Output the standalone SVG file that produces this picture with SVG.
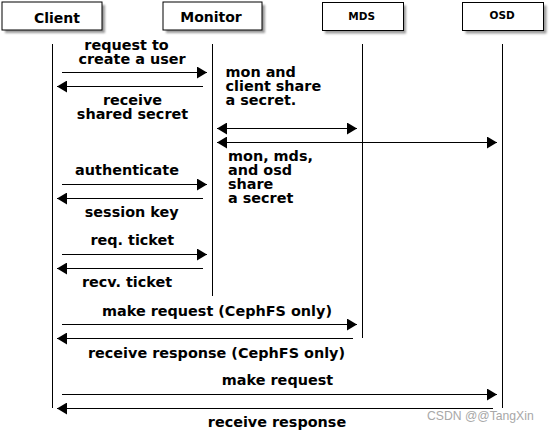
<svg xmlns="http://www.w3.org/2000/svg" width="551" height="433" viewBox="0 0 551 433">
<style>
  .box { fill: #ffffff; stroke: #000000; stroke-width: 1; }
  .shadow { fill: #9a9a9a; filter: url(#blur); }
  .life { stroke: #000000; stroke-width: 1; fill: none; }
  .msg { stroke: #000000; stroke-width: 1; fill: none; marker-end: url(#arrow); }
  .both { stroke: #000000; stroke-width: 1; fill: none; marker-end: url(#arrow); marker-start: url(#arrow); }
  .hdr { font-family: "DejaVu Sans", "Liberation Sans", sans-serif; font-weight: bold; font-size: 14px; fill: #000; text-anchor: middle; }
  .hdrs { font-family: "DejaVu Sans", "Liberation Sans", sans-serif; font-weight: bold; font-size: 10.5px; fill: #000; text-anchor: middle; }
  .lbl { font-family: "DejaVu Sans", "Liberation Sans", sans-serif; font-weight: bold; font-size: 14.4px; fill: #000; text-anchor: middle; }
  .note { font-family: "DejaVu Sans", "Liberation Sans", sans-serif; font-weight: bold; font-size: 14.4px; fill: #000; text-anchor: start; }
  .wm { font-family: "Liberation Sans", Arial, sans-serif; font-size: 12.2px; fill: #a8a8a8; }
</style>
<defs>
  <filter id="blur" x="-10%" y="-20%" width="120%" height="140%">
    <feGaussianBlur stdDeviation="1"/>
  </filter>
  <marker id="arrow" markerUnits="userSpaceOnUse" markerWidth="10" markerHeight="12" refX="10" refY="6" orient="auto-start-reverse">
    <path d="M0,0 L10,6 L0,12 z" fill="#000000"/>
  </marker>
</defs>

<g id="node-client">
  <rect class="shadow" x="5" y="5" width="100" height="28"/>
  <rect class="box" x="2" y="2" width="100" height="28"/>
  <text class="hdr" x="57" y="22.5">Client</text>
  <line class="life" x1="52.5" y1="44" x2="52.5" y2="408"/>
</g>
<g id="node-monitor">
  <rect class="shadow" x="166" y="5" width="99" height="28"/>
  <rect class="box" x="163" y="2" width="99" height="28"/>
  <text class="hdr" x="211" y="22">Monitor</text>
  <line class="life" x1="212.5" y1="44" x2="212.5" y2="296"/>
</g>
<g id="node-mds">
  <rect class="shadow" x="325" y="5.5" width="81" height="28"/>
  <rect class="box" x="322.5" y="2.5" width="81" height="28"/>
  <text class="hdrs" x="361.7" y="19.5">MDS</text>
  <line class="life" x1="362.5" y1="44" x2="362.5" y2="338"/>
</g>
<g id="node-osd">
  <rect class="shadow" x="465.5" y="5.5" width="81" height="28"/>
  <rect class="box" x="462.5" y="2.5" width="81" height="28"/>
  <text class="hdrs" x="502.2" y="19.2">OSD</text>
  <line class="life" x1="502.5" y1="44" x2="502.5" y2="408"/>
</g>

<g id="connectors">
  <line class="msg" x1="62" y1="72.5" x2="207" y2="72.5"/>
  <text class="lbl" x="126.5" y="49.5">request to</text>
  <text class="lbl" x="132" y="63.5">create a user</text>

  <line class="msg" x1="203" y1="86.5" x2="57" y2="86.5"/>
  <text class="lbl" x="132.5" y="105">receive</text>
  <text class="lbl" x="132.5" y="119">shared secret</text>

  <text class="note" x="225.5" y="77">mon and</text>
  <text class="note" x="225.5" y="91">client share</text>
  <text class="note" x="225.5" y="105">a secret.</text>

  <line class="both" x1="217" y1="128.5" x2="357" y2="128.5"/>
  <line class="both" x1="217" y1="142.5" x2="497" y2="142.5"/>

  <text class="note" x="228" y="160.5">mon, mds,</text>
  <text class="note" x="228" y="174.5">and osd</text>
  <text class="note" x="228" y="188.5">share</text>
  <text class="note" x="228" y="202.5">a secret</text>

  <line class="msg" x1="62" y1="184.5" x2="207" y2="184.5"/>
  <text class="lbl" x="127" y="175">authenticate</text>
  <line class="msg" x1="203" y1="198.5" x2="57" y2="198.5"/>
  <text class="lbl" x="131.7" y="217">session key</text>

  <line class="msg" x1="62" y1="254.5" x2="207" y2="254.5"/>
  <text class="lbl" x="132.3" y="245">req. ticket</text>
  <line class="msg" x1="203" y1="268.5" x2="57" y2="268.5"/>
  <text class="lbl" x="127" y="287">recv. ticket</text>

  <line class="msg" x1="62" y1="324.5" x2="357" y2="324.5"/>
  <text class="lbl" x="217" y="316">make request (CephFS only)</text>
  <line class="msg" x1="353" y1="338.5" x2="57" y2="338.5"/>
  <text class="lbl" x="216.5" y="358">receive response (CephFS only)</text>

  <line class="msg" x1="62" y1="394.5" x2="497" y2="394.5"/>
  <text class="lbl" x="277.5" y="384.5">make request</text>
  <line class="msg" x1="493" y1="408.5" x2="57" y2="408.5"/>
  <text class="lbl" x="277" y="426.5">receive response</text>
</g>

<text class="wm" x="427" y="420">CSDN @@TangXin</text>
</svg>
